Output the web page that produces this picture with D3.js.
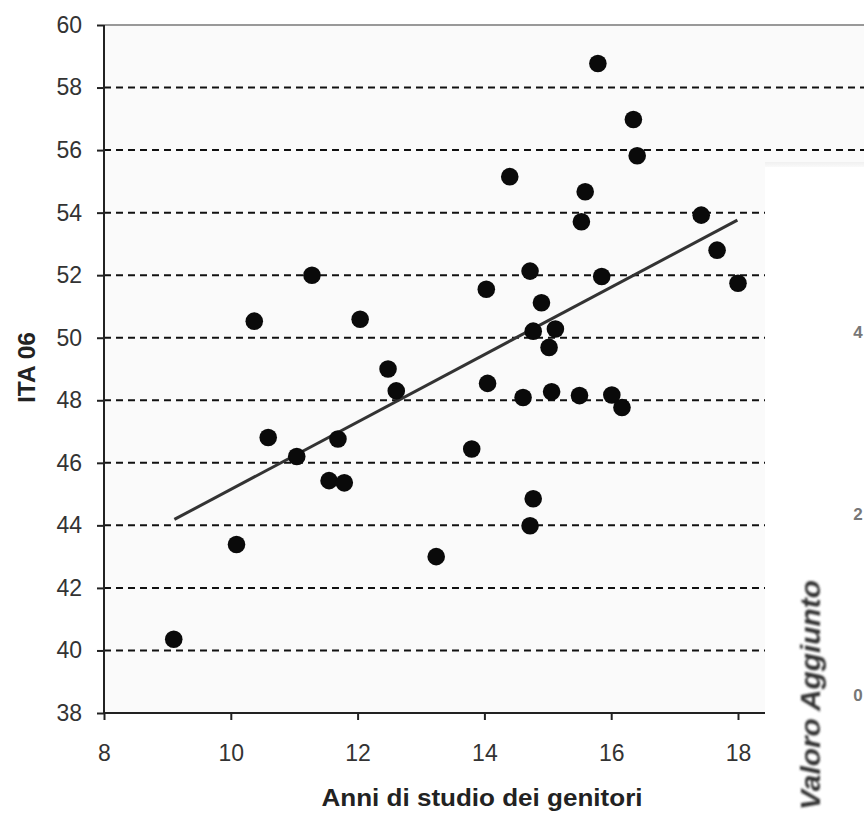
<!DOCTYPE html>
<html><head><meta charset="utf-8">
<script src="https://cdn.jsdelivr.net/npm/d3@7"></script>
<style>html,body{margin:0;padding:0;background:#fff;overflow:hidden}</style>
</head><body>
<svg id="c" width="864" height="813"></svg>
<script>
// Data: parents' years of study (x) vs ITA 06 score (y)
const anniStudio = [9.10,10.09,10.37,10.59,11.04,11.28,11.55,11.69,11.79,12.04,12.48,12.61,13.24,13.80,14.03,14.05,14.40,14.61,14.72,14.72,14.77,14.77,14.90,15.02,15.06,15.12,15.50,15.53,15.59,15.79,15.85,16.01,16.17,16.35,16.41,17.42,17.67,18.00];
const ita06 = [40.36,43.39,50.53,46.81,46.20,52.00,45.43,46.76,45.36,50.59,49.00,48.30,43.00,46.44,51.55,48.54,55.15,48.09,52.13,43.99,44.85,50.21,51.12,49.69,48.27,50.28,48.15,53.71,54.67,58.77,51.96,48.17,47.77,56.98,55.82,53.92,52.80,51.74];
const trendX = [9.11, 17.99];
const trendY = [44.19, 53.76];
const xTicks = [8,10,12,14,16,18];
const yTicks = [38,40,42,44,46,48,50,52,54,56,58,60];
const overlayTicks = ["4","2","0"];
const overlayTickY = [332,514,695];

const FONT = "'Liberation Sans', Arial, sans-serif";
const svg = d3.select("#c");
const x = d3.scaleLinear().domain([8,20]).range([104, 864.8]);
const y = d3.scaleLinear().domain([38,60]).range([713, 25]);

// plot background
svg.append("rect").attr("x",104).attr("y",25).attr("width",770).attr("height",688).attr("fill","#fafafa");
// top border
svg.append("line").attr("x1",104).attr("x2",864).attr("y1",25).attr("y2",25).attr("stroke","#999").attr("stroke-width",2);

// dashed gridlines
svg.append("g").selectAll("line").data(yTicks.filter(d=>d>38 && d<60)).join("line")
  .attr("x1",104).attr("x2",864).attr("y1",d=>y(d)).attr("y2",d=>y(d))
  .attr("stroke","#111").attr("stroke-width",2).attr("stroke-dasharray","7,5");

// axes
const yAxis = d3.axisLeft(y).tickValues(yTicks).tickSize(7).tickPadding(15).tickFormat(d3.format("d"));
const gy = svg.append("g").attr("transform","translate(104,0)").call(yAxis);
const xAxis = d3.axisBottom(x).tickValues(xTicks).tickSize(7).tickPadding(25).tickFormat(d3.format("d"));
const gx = svg.append("g").attr("transform","translate(0,713)").call(xAxis);
[gx,gy].forEach(g=>{
  g.select(".domain").attr("stroke","#222").attr("stroke-width",2);
  g.selectAll(".tick line").attr("stroke","#222").attr("stroke-width",2);
  g.selectAll(".tick text").attr("fill","#333").attr("font-family",FONT).attr("font-size",23);
});
gy.select(".domain").attr("d","M0,713V25");
gx.select(".domain").attr("d","M104,0H864");

// trend line
svg.append("line").attr("x1",x(trendX[0])).attr("y1",y(trendY[0])).attr("x2",x(trendX[1])).attr("y2",y(trendY[1]))
  .attr("stroke","#333").attr("stroke-width",3);

// points
svg.append("g").selectAll("circle").data(anniStudio.map((v,i)=>[v,ita06[i]])).join("circle")
  .attr("cx",d=>x(d[0])).attr("cy",d=>y(d[1])).attr("r",8.8).attr("fill","#0a0a0a");

// axis titles
svg.append("text").attr("x",482).attr("y",806).attr("text-anchor","middle")
  .attr("font-family",FONT).attr("font-weight","bold").attr("font-size",23).attr("fill","#222")
  .attr("textLength",321).attr("lengthAdjust","spacingAndGlyphs")
  .text("Anni di studio dei genitori");
svg.append("text").attr("transform","translate(35,367.5) rotate(-90)").attr("text-anchor","middle")
  .attr("font-family",FONT).attr("font-weight","bold").attr("font-size",23).attr("fill","#222")
  .attr("textLength",71).attr("lengthAdjust","spacingAndGlyphs")
  .text("ITA 06");

// overlapping second chart fragment
const defs = svg.append("defs");
const gr = defs.append("linearGradient").attr("id","sh").attr("x1",0).attr("x2",0).attr("y1",0).attr("y2",1);
gr.append("stop").attr("offset","0").attr("stop-color","#f0f0f0");
gr.append("stop").attr("offset","1").attr("stop-color","#ffffff");
defs.append("filter").attr("id","blur").attr("x","-50%").attr("y","-50%").attr("width","200%").attr("height","200%")
  .append("feGaussianBlur").attr("stdDeviation",0.8);
svg.append("rect").attr("x",765).attr("y",162).attr("width",99).attr("height",8).attr("fill","url(#sh)");
svg.append("rect").attr("x",765).attr("y",167).attr("width",99).attr("height",646).attr("fill","#ffffff");
svg.append("text").attr("transform","translate(820,695) rotate(-90)").attr("text-anchor","middle")
  .attr("font-family",FONT).attr("font-style","italic").attr("font-weight","bold")
  .attr("font-size",28).attr("fill","#333").attr("filter","url(#blur)")
  .attr("textLength",230).attr("lengthAdjust","spacingAndGlyphs")
  .text("Valoro Aggiunto");
svg.append("g").selectAll("text").data(overlayTicks).join("text")
  .attr("x",858).attr("y",(d,i)=>overlayTickY[i]+6).attr("text-anchor","middle")
  .attr("font-family",FONT).attr("font-weight","bold").attr("font-size",17).attr("fill","#777")
  .text(d=>d);
</script>
</body></html>
